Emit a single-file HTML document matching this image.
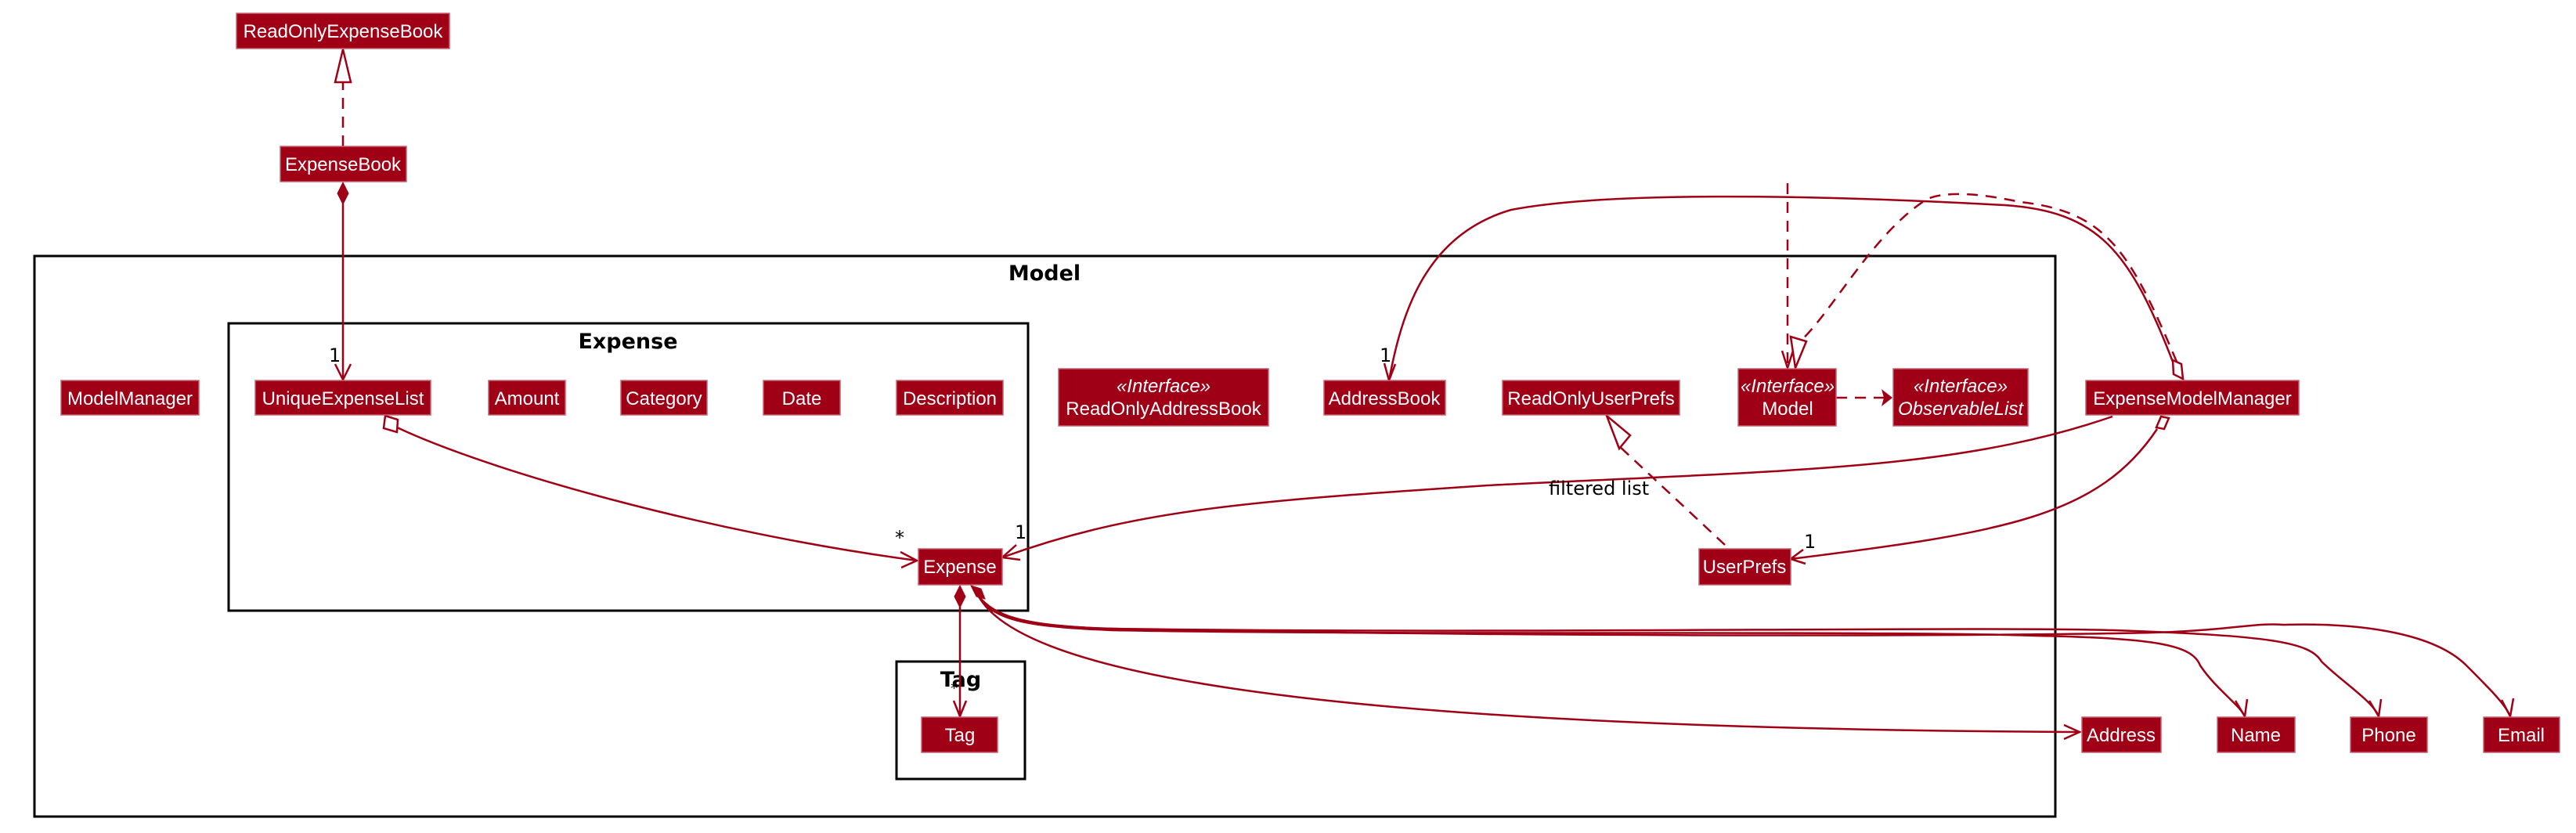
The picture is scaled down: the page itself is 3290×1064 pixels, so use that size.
<!DOCTYPE html>
<html><head><meta charset="utf-8"><style>
html,body{margin:0;padding:0;background:#fff;}
svg{display:block;}
.n{fill:#A00015;stroke:#C8606E;stroke-width:1.5;}
.t{fill:#fff;font-family:"Liberation Sans",sans-serif;font-size:24px;text-anchor:middle;}
.ti{fill:#fff;font-family:"Liberation Sans",sans-serif;font-size:24px;text-anchor:middle;font-style:italic;}
.f{fill:none;stroke:#000;stroke-width:3;}
.ft{font-family:"DejaVu Sans","Liberation Sans",sans-serif;font-weight:bold;font-size:27px;text-anchor:middle;fill:#000;}
.l{fill:none;stroke:#A00015;stroke-width:2.5;}
.d{fill:none;stroke:#A00015;stroke-width:2.5;stroke-dasharray:14 10;}
.lb{font-family:"DejaVu Sans","Liberation Sans",sans-serif;font-size:24px;fill:#000;}
</style></head><body>
<svg width="3290" height="1064" viewBox="0 0 3290 1064" xmlns="http://www.w3.org/2000/svg">
<rect class="f" x="44" y="327" width="2581" height="716"/>
<text class="ft" x="1334" y="358">Model</text>
<rect class="f" x="292" y="413" width="1021" height="367"/>
<text class="ft" x="802" y="445">Expense</text>
<rect class="f" x="1145" y="845" width="164" height="150"/>
<text class="ft" x="1227" y="877">Tag</text>

<line class="d" x1="438" y1="187" x2="438" y2="105"/>
<polygon points="438,63 428,105 448,105" fill="#fff" stroke="#A00015" stroke-width="2.5"/>
<line class="l" x1="438" y1="260" x2="438" y2="485"/>
<polygon points="438,233 445,247 438,261 431,247" fill="#A00015" stroke="#A00015"/>
<polyline class="l" points="428,465 438,485 448,465"/>
<text class="lb" x="420" y="462">1</text>

<path class="l" d="M505,545 C620,600 900,680 1171,716"/>
<polygon points="492,531 508,536 507,552 490,547" fill="#fff" stroke="#A00015" stroke-width="2.5"/>
<polyline class="l" points="1150,705 1171,716 1151,725"/>
<text class="lb" x="1143" y="695">*</text>

<path class="l" d="M2698,532 C2500,600 2300,600 1900,620 C1600,640 1450,650 1280,712"/>
<polyline class="l" points="1298,696 1280,712 1303,715"/>
<text class="lb" x="1296" y="688">1</text>
<text class="lb" x="1978" y="632">filtered list</text>

<path class="l" d="M2755,548 C2680,660 2560,680 2287,714"/>
<polygon points="2760,532 2770,534 2764,548 2754,546" fill="#fff" stroke="#A00015" stroke-width="2.5"/>
<polyline class="l" points="2303,702 2287,714 2306,720"/>
<text class="lb" x="2304" y="700">1</text>

<line class="d" x1="2203" y1="696" x2="2066" y2="568"/>
<polygon points="2052,531 2068,573 2082,556" fill="#fff" stroke="#A00015" stroke-width="2.5"/>

<path class="l" d="M2775,462 C2720,320 2680,270 2560,262 C2300,248 2050,245 1930,268 C1820,300 1790,400 1774,486"/>
<polygon points="2788,484 2776,478 2775,460 2786,465" fill="#fff" stroke="#A00015" stroke-width="2.5"/>
<polyline class="l" points="1768,464 1774,486 1782,465"/>
<text class="lb" x="1762" y="462">1</text>

<path class="d" d="M2780,462 C2720,320 2690,270 2580,258 C2520,245 2480,245 2460,255 C2390,300 2340,400 2295,440"/>
<polygon points="2293,470 2287,430 2307,436" fill="#fff" stroke="#A00015" stroke-width="2.5"/>

<line class="d" x1="2283" y1="234" x2="2283" y2="468"/>
<polyline class="l" points="2276,448 2283,470 2290,448"/>

<line class="d" x1="2345" y1="508" x2="2410" y2="508"/>
<polygon points="2417,508 2403,497 2406,508 2403,519" fill="#A00015"/>

<line class="l" x1="1226" y1="775" x2="1226" y2="915"/>
<polygon points="1226,748 1233,762 1226,776 1219,762" fill="#A00015" stroke="#A00015"/>
<polyline class="l" points="1218,895 1226,915 1234,895"/>
<text class="lb" x="1214" y="885" style="font-size:18px">*</text>

<polygon points="1240,748 1253,752 1258,765 1247,762" fill="#A00015" stroke="#A00015"/>
<path class="l" d="M1250,762 C1300,850 1600,930 2656,935"/>
<polyline class="l" points="2636,926 2656,935 2636,944"/>
<path class="l" d="M1250,762 C1270,790 1300,800 1420,805 C1800,812 2400,805 2600,812 C2760,815 2800,825 2810,850 C2830,880 2860,900 2867,915"/>
<polyline class="l" points="2855,895 2867,915 2870,893"/>
<path class="l" d="M1250,762 C1270,785 1300,800 1420,803 C1900,810 2500,800 2700,805 C2900,812 2950,820 2965,845 C2990,870 3030,895 3038,915"/>
<polyline class="l" points="3026,895 3038,915 3041,893"/>
<path class="l" d="M1250,762 C1270,785 1300,800 1420,803 C2000,815 2600,812 2750,808 C2850,805 2880,795 2916,798 C3020,795 3110,810 3150,850 C3180,880 3200,900 3206,915"/>
<polyline class="l" points="3195,894 3206,915 3210,892"/>

<rect class="n" x="302" y="17" width="272" height="45"/><text class="t" x="438" y="48">ReadOnlyExpenseBook</text>
<rect class="n" x="358" y="187" width="161" height="45"/><text class="t" x="438" y="218">ExpenseBook</text>
<rect class="n" x="78" y="486" width="176" height="44"/><text class="t" x="166" y="517">ModelManager</text>
<rect class="n" x="326" y="486" width="224" height="44"/><text class="t" x="438" y="517">UniqueExpenseList</text>
<rect class="n" x="624" y="486" width="98" height="44"/><text class="t" x="673" y="517">Amount</text>
<rect class="n" x="793" y="486" width="110" height="44"/><text class="t" x="848" y="517">Category</text>
<rect class="n" x="975" y="486" width="98" height="44"/><text class="t" x="1024" y="517">Date</text>
<rect class="n" x="1145" y="486" width="136" height="44"/><text class="t" x="1213" y="517">Description</text>
<rect class="n" x="1352" y="471" width="268" height="73"/><text class="ti" x="1486" y="501">«Interface»</text><text class="t" x="1486" y="530">ReadOnlyAddressBook</text>
<rect class="n" x="1691" y="486" width="155" height="44"/><text class="t" x="1768" y="517">AddressBook</text>
<rect class="n" x="1919" y="486" width="226" height="44"/><text class="t" x="2032" y="517">ReadOnlyUserPrefs</text>
<rect class="n" x="2220" y="471" width="125" height="73"/><text class="ti" x="2283" y="501">«Interface»</text><text class="t" x="2283" y="530">Model</text>
<rect class="n" x="2418" y="471" width="172" height="73"/><text class="ti" x="2504" y="501">«Interface»</text><text class="ti" x="2504" y="530">ObservableList</text>
<rect class="n" x="2664" y="486" width="272" height="44"/><text class="t" x="2800" y="517">ExpenseModelManager</text>
<rect class="n" x="1173" y="701" width="107" height="46"/><text class="t" x="1226" y="732">Expense</text>
<rect class="n" x="2170" y="701" width="117" height="46"/><text class="t" x="2228" y="732">UserPrefs</text>
<rect class="n" x="1177" y="916" width="97" height="45"/><text class="t" x="1226" y="947">Tag</text>
<rect class="n" x="2659" y="916" width="101" height="45"/><text class="t" x="2709" y="947">Address</text>
<rect class="n" x="2832" y="916" width="99" height="45"/><text class="t" x="2881" y="947">Name</text>
<rect class="n" x="3002" y="916" width="98" height="45"/><text class="t" x="3051" y="947">Phone</text>
<rect class="n" x="3172" y="916" width="97" height="45"/><text class="t" x="3220" y="947">Email</text>
</svg>
</body></html>
